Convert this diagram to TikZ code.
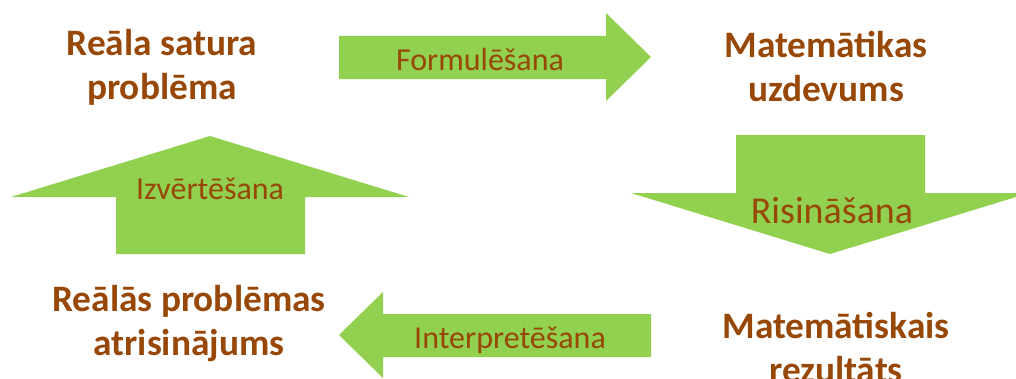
\documentclass[tikz,border=0pt]{standalone}
\usepackage{fontspec}
\setmainfont{Carlito}
\usetikzlibrary{positioning}
\definecolor{leaf}{HTML}{92D050}
\definecolor{rust}{HTML}{974706}
\tikzset{
  stage/.style={align=center, text=rust, inner sep=0pt, font=\bfseries\fontsize{28}{33}\selectfont},
  act/.style={text=rust, inner sep=0pt, anchor=base, font=\fontsize{24}{29}\selectfont},
  bigact/.style={act, font=\fontsize{28.5}{33}\selectfont},
  blk/.style={fill=leaf, draw=none}
}

\begin{document}
\begin{tikzpicture}[x=0.75pt, y=-0.75pt]
	\useasboundingbox (0,0) rectangle (1016,378);
	% block arrows
	\fill[blk] (339,36) -- (606,36) -- (606,13) -- (651,57) -- (606,101) -- (606,79) -- (339,79) -- cycle;
	\fill[blk] (736,135) -- (925,135) -- (925,193) -- (1029,193) -- (830,254) -- (631,193) -- (736,193) -- cycle;
	\fill[blk] (651,314) -- (383,314) -- (383,292) -- (339,335) -- (383,378) -- (383,357) -- (651,357) -- cycle;
	\fill[blk] (305,254) -- (116,254) -- (116,197) -- (11,197) -- (210,136) -- (409,197) -- (305,197) -- cycle;

	\node[stage] (real) at (162,67) {Reāla satura\\problēma};
	\node[stage] (task) at (826,67) {Matemātikas\\uzdevums};
	\node[stage] (res) at (836,348) {Matemātiskais\\rezultāts};
	\node[stage] (sol) at (189,324) {Reālās problēmas\\atrisinājums};

	\node[act] (form) at (480,70) {Formulēšana};
	\node[bigact] (solve) at (832,223) {Risināšana};
	\node[act] (interp) at (510,348) {Interpretēšana};
	\node[act] (eval) at (210,199) {Izvērtēšana};
\end{tikzpicture}
\end{document}
